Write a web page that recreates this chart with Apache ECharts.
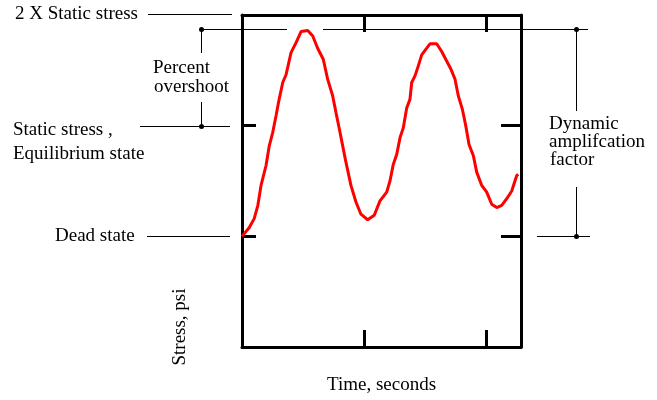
<!DOCTYPE html>
<html>
<head>
<meta charset="utf-8">
<script src="https://cdn.jsdelivr.net/npm/echarts@6/dist/echarts.min.js"></script>
<style>
  html, body { margin: 0; padding: 0; background: #fff; }
  #chart { width: 657px; height: 400px; }
</style>
</head>
<body>
<div id="chart"></div>
<script>
// curve: time (arbitrary units) vs stress (dead state = 0, static = 1)
const timeSeconds = [
  0, 0.06, 0.10, 0.13, 0.156, 0.197, 0.224, 0.252, 0.279, 0.301, 0.334, 0.361, 0.402,
  0.443, 0.484, 0.539, 0.58, 0.62, 0.666, 0.702, 0.743, 0.77, 0.798, 0.825, 0.852, 0.893,
  0.934, 0.975, 1.03, 1.084, 1.131, 1.186, 1.213, 1.24, 1.268, 1.295, 1.322, 1.35, 1.377,
  1.391, 1.418, 1.445, 1.473, 1.514, 1.541, 1.596, 1.637, 1.67, 1.713, 1.746, 1.773, 1.806,
  1.834, 1.861, 1.896, 1.924, 1.965, 2.006, 2.047, 2.088, 2.129, 2.17, 2.211, 2.252, 2.265
];
const stressPsi = [
  0, 0.08, 0.16, 0.28, 0.46, 0.64, 0.82, 0.94, 1.09, 1.22, 1.39, 1.46, 1.66,
  1.75, 1.85, 1.86, 1.81, 1.70, 1.60, 1.42, 1.27, 1.12, 0.97, 0.82, 0.67, 0.46,
  0.31, 0.20, 0.15, 0.19, 0.32, 0.40, 0.50, 0.65, 0.74, 0.89, 0.98, 1.16, 1.24,
  1.39, 1.45, 1.54, 1.64, 1.70, 1.74, 1.74, 1.67, 1.60, 1.51, 1.42, 1.27, 1.15,
  1.00, 0.83, 0.73, 0.58, 0.46, 0.40, 0.29, 0.26, 0.28, 0.34, 0.41, 0.55, 0.56
];

// reference levels on the stress axis
const deadLevel = 0;
const staticLevel = 1;
const twiceStaticLevel = 2;

const xTitle = 'Time, seconds';
const yTitle = 'Stress, psi';

const FONT = '19px "Liberation Serif", "Times New Roman", serif';

const chart = echarts.init(document.getElementById('chart'), null, { renderer: 'canvas' });

const boxAxis = (tickLen) => ({
  axisLine: { show: true, onZero: false, lineStyle: { color: '#000', width: 3 } },
  axisTick: { show: true, inside: true, length: tickLen, lineStyle: { color: '#000', width: 3 } },
  axisLabel: { show: false },
  splitLine: { show: false }
});

chart.setOption({
  animation: false,
  grid: { left: 242, right: 136, top: 15, bottom: 51 },
  xAxis: [
    { type: 'value', min: 0, max: 2.287, interval: 1, position: 'bottom', ...boxAxis(17),
      name: xTitle, nameLocation: 'middle', nameGap: 29,
      nameTextStyle: { color: '#000', fontSize: 19, fontFamily: '"Liberation Serif", serif' } },
    { type: 'value', min: 0, max: 2.287, interval: 1, position: 'top', ...boxAxis(17) }
  ],
  yAxis: [
    { type: 'value', min: -1, max: 2, interval: 1, position: 'left', ...boxAxis(14) },
    { type: 'value', min: -1, max: 2, interval: 1, position: 'right', ...boxAxis(20) }
  ],
  series: [{
    type: 'line',
    data: timeSeconds.map((t, i) => [t, stressPsi[i]]),
    showSymbol: false,
    lineStyle: { color: '#ff0000', width: 3 },
    z: 5
  }]
});

// annotations, placed on the axis levels
const yPx = (v) => Math.round(chart.convertToPixel({ yAxisIndex: 0 }, v)) + 0.5;
const yDead = yPx(deadLevel);
const yStatic = yPx(staticLevel);
const yTwice = yPx(twiceStaticLevel) - 1;
const yPeak = yPx(Math.max(...stressPsi)) - 1;

const line = (x1, y1, x2, y2) => ({
  type: 'line', silent: true, z: 10,
  shape: { x1, y1, x2, y2 },
  style: { stroke: '#000', lineWidth: 1 }
});
const dot = (x, y) => ({
  type: 'circle', silent: true, z: 11,
  shape: { cx: x, cy: y, r: 2.5 },
  style: { fill: '#000' }
});
const label = (text, x, y, extra) => Object.assign({
  type: 'text', silent: true, z: 12, x, y,
  style: { text, font: FONT, fill: '#000', align: 'left', verticalAlign: 'middle' }
}, extra || {});

chart.setOption({
  graphic: [
    label('2 X Static stress', 15, 14),
    line(148, yTwice, 232, yTwice),

    line(200, yPeak, 287, yPeak),
    line(323, yPeak, 588, yPeak),
    line(201.5, yPeak, 201.5, 53),
    line(201.5, 102, 201.5, yStatic),
    dot(201.5, yPeak),
    dot(201.5, yStatic),
    label('Percent', 153, 68),
    label('overshoot', 154, 87),

    label('Static stress ,', 13, 130),
    label('Equilibrium state', 13, 154),
    line(140, yStatic, 230, yStatic),

    label('Dead state', 55, 236),
    line(147, yDead, 230, yDead),

    line(576.5, yPeak, 576.5, 111),
    line(576.5, 187, 576.5, yDead),
    dot(576.5, yPeak),
    dot(576.5, yDead),
    line(537, yDead, 590, yDead),
    label('Dynamic', 549, 124),
    label('amplifcation', 549, 142),
    label('factor', 550, 160),

    label(yTitle, 180, 327, { rotation: Math.PI / 2, style: {
      text: yTitle, font: FONT, fill: '#000', align: 'center', verticalAlign: 'middle' } })
  ]
});
</script>
</body>
</html>
